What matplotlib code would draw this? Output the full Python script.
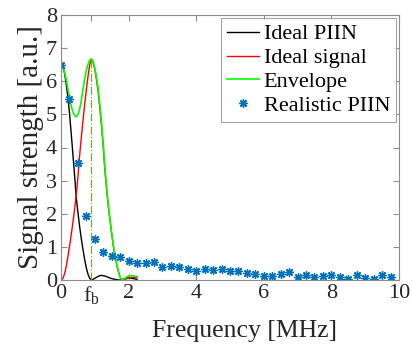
import matplotlib
matplotlib.use("Agg")
import matplotlib.pyplot as plt
import numpy as np

plt.rcParams['font.family'] = ['Liberation Serif', 'DejaVu Serif']
plt.rcParams['mathtext.fontset'] = 'custom'
plt.rcParams['mathtext.rm'] = 'Liberation Serif'
plt.rcParams['mathtext.it'] = 'Liberation Serif:italic'

# Frequency grid for the ideal curves [MHz]
freq_curve = [0.00, 0.05, 0.10, 0.15, 0.20, 0.25, 0.30, 0.35, 0.40, 0.45,
              0.50, 0.55, 0.60, 0.65, 0.70, 0.75, 0.80, 0.85, 0.90, 0.95,
              1.00, 1.05, 1.10, 1.15, 1.20, 1.25, 1.30, 1.35, 1.40, 1.45,
              1.50, 1.55, 1.60, 1.65, 1.70, 1.75, 1.80, 1.85, 1.90, 1.95,
              2.00, 2.05, 2.10, 2.15, 2.20, 2.25]

ideal_piin = [6.55, 6.48, 6.27, 5.95, 5.55, 5.05, 4.45, 3.82, 3.18, 2.50,
              2.05, 1.62, 1.25, 0.92, 0.62, 0.36, 0.17, 0.05, 0.00, 0.02,
              0.05, 0.08, 0.11, 0.13, 0.14, 0.13, 0.12, 0.10, 0.08, 0.06,
              0.04, 0.03, 0.02, 0.01, 0.00, 0.00, 0.01, 0.03, 0.05, 0.06,
              0.06, 0.06, 0.05, 0.04, 0.03, 0.02]

ideal_signal = [0.00, 0.04, 0.17, 0.38, 0.68, 1.00, 1.35, 1.72, 2.12, 2.55,
                3.10, 3.75, 4.30, 4.80, 5.30, 5.75, 6.15, 6.50, 6.67, 6.58,
                6.35, 6.04, 5.67, 5.17, 4.62, 3.99, 3.28, 2.72, 2.22, 1.79,
                1.38, 1.02, 0.72, 0.46, 0.25, 0.08, 0.00, 0.01, 0.02, 0.04,
                0.06, 0.07, 0.08, 0.08, 0.08, 0.08]

envelope = [6.55, 6.48, 6.30, 6.07, 5.80, 5.52, 5.27, 5.08, 4.97, 4.93,
            4.98, 5.15, 5.42, 5.75, 6.05, 6.32, 6.52, 6.64, 6.67, 6.60,
            6.40, 6.12, 5.78, 5.30, 4.75, 4.12, 3.40, 2.82, 2.30, 1.85,
            1.42, 1.05, 0.74, 0.47, 0.25, 0.08, 0.00, 0.02, 0.06, 0.10,
            0.12, 0.13, 0.13, 0.12, 0.11, 0.10]

# Realistic PIIN samples
freq_real = [0.00, 0.25, 0.50, 0.75, 1.00, 1.25, 1.50, 1.75, 2.00, 2.25,
             2.50, 2.75, 3.00, 3.25, 3.50, 3.75, 4.00, 4.25, 4.50, 4.75,
             5.00, 5.25, 5.50, 5.75, 6.00, 6.25, 6.50, 6.75, 7.00, 7.25,
             7.50, 7.75, 8.00, 8.25, 8.50, 8.75, 9.00, 9.25, 9.50, 9.75]
realistic_piin = [6.50, 5.47, 3.52, 1.93, 1.23, 0.84, 0.73, 0.70, 0.58, 0.52,
                  0.50, 0.54, 0.40, 0.43, 0.40, 0.32, 0.28, 0.32, 0.30, 0.34,
                  0.28, 0.27, 0.20, 0.19, 0.12, 0.12, 0.18, 0.23, 0.10, 0.16,
                  0.08, 0.12, 0.14, 0.08, 0.02, 0.15, 0.06, 0.02, 0.14, 0.10]

fb = 0.9
fb_peak = 6.67
xtick_vals = [0, fb, 2, 4, 6, 8, 10]
xtick_labels = ['0', r'$\mathrm{f_b}$', '2', '4', '6', '8', '10']
ytick_vals = [0, 1, 2, 3, 4, 5, 6, 7, 8]

fig = plt.figure(figsize=(4.12, 3.55), dpi=100)
ax = fig.add_axes([61/412, 1-280/355, 338/412, 265/355])

ax.plot(freq_curve, ideal_piin, color='k', lw=1.0, label='Ideal PIIN')
ax.plot(freq_curve, ideal_signal, color='#FF0000', lw=1.0, label='Ideal signal')
ax.plot(freq_curve, envelope, color='#00FF00', lw=1.2, label='Envelope')
ax.plot([fb, fb], [0, fb_peak], color='#77AC30', lw=0.9, ls='-.')
ax.plot(freq_real, realistic_piin, ls='none', marker=(8, 2, 0), ms=6,
        mew=1.0, color='#0072BD', label='Realistic PIIN')

ax.set_xlim(0, 10)
ax.set_ylim(0, 8)
ax.set_xticks(xtick_vals)
ax.set_xticklabels(xtick_labels)
ax.set_yticks(ytick_vals)

for s in ax.spines.values():
    s.set_color('#8c8c8c')
    s.set_linewidth(0.8)
ax.tick_params(direction='in', length=4, width=0.8, color='#8c8c8c',
               labelsize=16, labelcolor='#262626', top=True, right=True, pad=3)

ax.set_xlabel('Frequency [MHz]', fontsize=18.5, color='#262626', labelpad=1)
ax.xaxis.set_label_coords(0.544, -0.15)
ax.set_ylabel('Signal strength [a.u.]', fontsize=21, color='#262626', labelpad=1)

leg = ax.legend(loc='upper right', fontsize=16, frameon=True, fancybox=False,
                borderaxespad=0.15, handlelength=1.45, handletextpad=0.2,
                borderpad=0.25, labelspacing=0.15, numpoints=1)
leg.get_frame().set_edgecolor('#8c8c8c')
leg.get_frame().set_linewidth(0.8)
for t in leg.get_texts():
    t.set_color('#000000')

fig.savefig('out.png', dpi=100)
